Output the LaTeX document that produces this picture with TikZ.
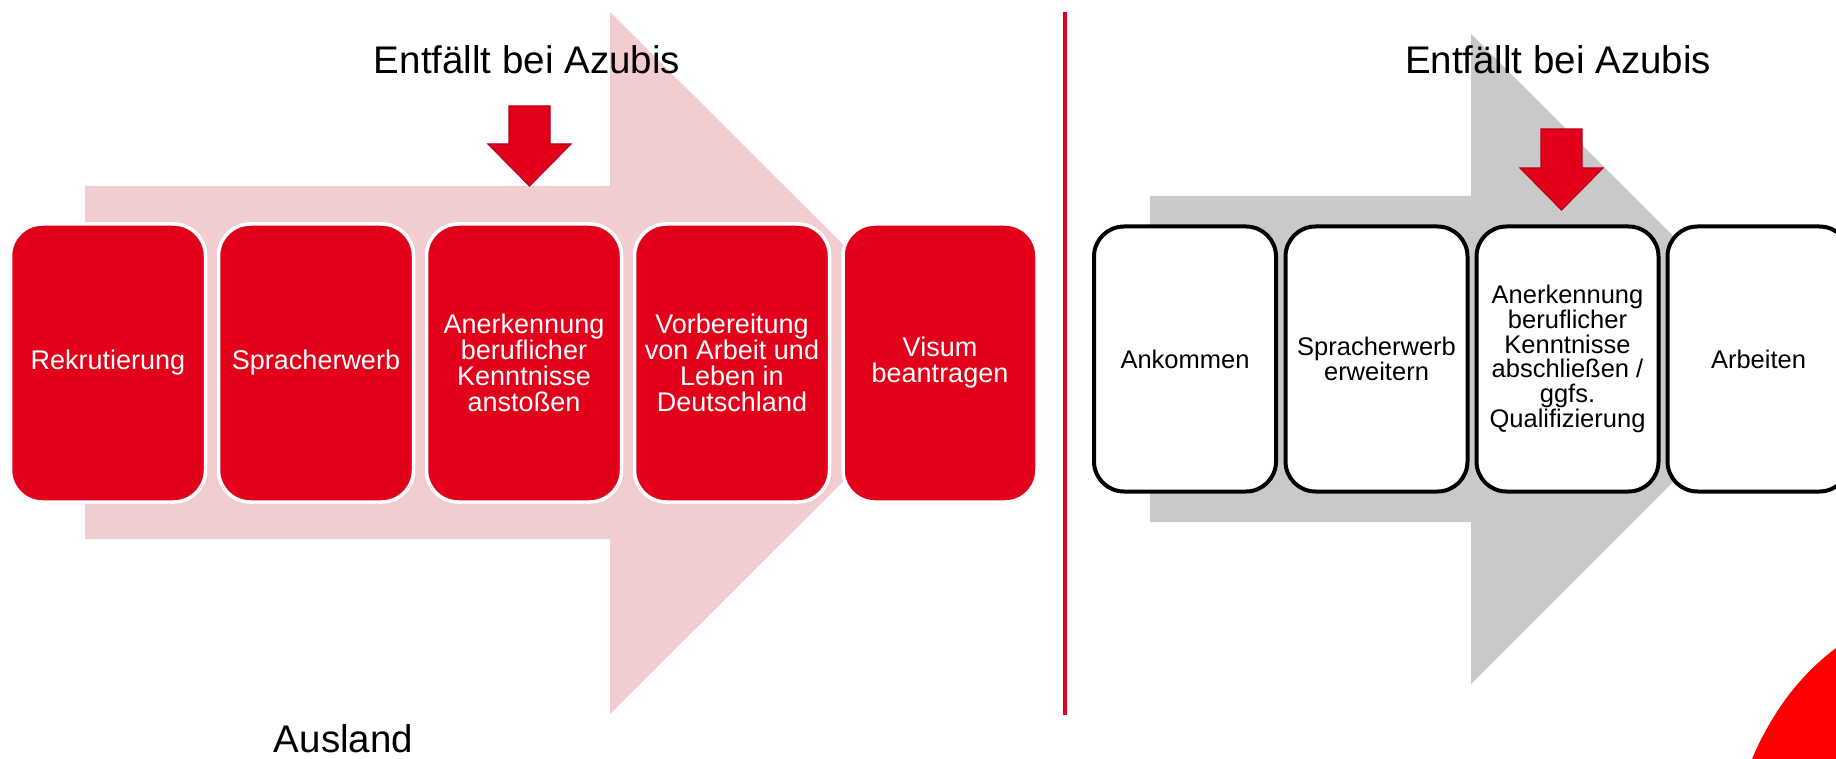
\documentclass[tikz,border=0pt]{standalone}
\usepackage{fontspec}
\setmainfont{Liberation Sans}
\definecolor{brand}{HTML}{E2001A}
\definecolor{pinkarrow}{HTML}{F2CDD0}
\definecolor{grayarrow}{HTML}{C9C9C9}
\definecolor{darkred}{HTML}{B8001A}
\tikzset{
  redbox/.style={draw=white,line width=3.5pt,fill=brand,rounded corners=32pt,text=white,align=center,inner sep=0pt,font=\fontsize{27}{26}\selectfont},
  whitebox/.style={draw=black,line width=4pt,fill=white,rounded corners=30pt,text=black,align=center,inner sep=0pt,font=\fontsize{25.5}{24.7}\selectfont},
  heading/.style={text=black,inner sep=0pt,font=\fontsize{38.5}{40}\selectfont},
  downarrow/.style={fill=brand,draw=darkred,line width=1.2pt}
}
\newcommand{\pbox}[6]{\node[#1,minimum width=#4pt,minimum height=#5pt] (#2) at (#3) {#6};}
\begin{document}
\begin{tikzpicture}[x=1pt,y=-1pt]
\useasboundingbox (0,0) rectangle (1836,759);
\fill[white] (0,0) rectangle (1836,759);
% background arrows
\fill[pinkarrow] (85,186) -- (610,186) -- (610,12) -- (962,363) -- (610,714) -- (610,539) -- (85,539) -- cycle;
\fill[grayarrow] (1150,196) -- (1471,196) -- (1471,34) -- (1796,359) -- (1471,684) -- (1471,522) -- (1150,522) -- cycle;
% boxes left
\pbox{redbox}{r1}{108,363}{195}{278}{Rekrutierung}
\pbox{redbox}{r2}{316,363}{195}{278}{Spracherwerb}
\pbox{redbox}{r3}{524,363}{195}{278}{Anerkennung\\beruflicher\\Kenntnisse\\anstoßen}
\pbox{redbox}{r4}{732,363}{195}{278}{Vorbereitung\\von Arbeit und\\Leben in\\Deutschland}
\pbox{redbox}{r5}{940,363}{194}{278}{Visum\\beantragen}
% boxes right
\pbox{whitebox}{w1}{1185,359}{182}{265}{Ankommen}
\pbox{whitebox}{w2}{1376.5,359}{182}{265}{Spracherwerb\\erweitern}
\pbox{whitebox}{w3}{1567.5,359}{182}{265}{Anerkennung\\beruflicher\\Kenntnisse\\abschließen /\\ggfs.\\Qualifizierung}
\pbox{whitebox}{w4}{1758.5,359}{182}{265}{Arbeiten}
% red down arrows
\draw[downarrow] (509,106) -- (550,106) -- (550,144) -- (571,144) -- (529.5,186) -- (488,144) -- (509,144) -- cycle;
\draw[downarrow] (1541,129) -- (1582,129) -- (1582,168) -- (1603,168) -- (1561.5,210) -- (1520,168) -- (1541,168) -- cycle;
% divider
\coordinate (dt) at (1065,12);
\coordinate (db) at (1065,715);
\draw[brand,line width=4pt] (dt) -- (db);
% texts
\node[heading,anchor=base] (h1) at (527,74) {Entfällt bei Azubis};
\node[heading,anchor=base] (h2) at (1558,74) {Entfällt bei Azubis};
\node[heading,anchor=base] (h3) at (343.5,752) {Ausland};
% corner shape
\fill[red] (1752,759) .. controls (1772,712) and (1800,675) .. (1836,648) -- (1836,759) -- cycle;
\end{tikzpicture}
\end{document}
